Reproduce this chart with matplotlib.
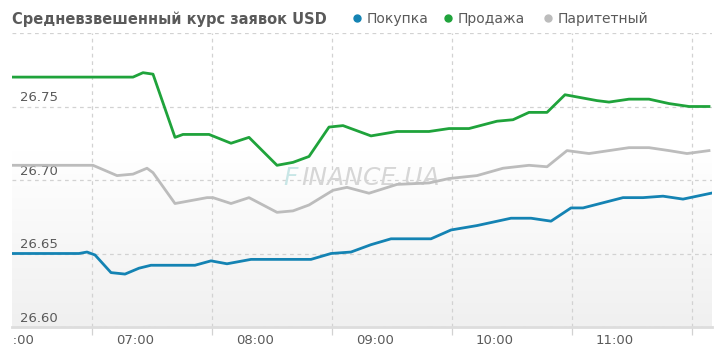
import matplotlib.pyplot as plt
import numpy as np
from matplotlib.lines import Line2D
from matplotlib.colors import LinearSegmentedColormap
from matplotlib.transforms import Bbox, TransformedBbox

# данные: время в минутах от полуночи, значения курса
buy_t = [358, 392, 396, 400, 408, 415, 422, 428, 450, 458, 466, 478, 508, 518, 528,
         538, 548, 568, 578, 591, 608, 618, 628, 638, 644, 664, 674, 684, 694, 708]
buy_v = [26.650, 26.650, 26.651, 26.649, 26.637, 26.636, 26.640, 26.642, 26.642, 26.645,
         26.643, 26.646, 26.646, 26.650, 26.651, 26.656, 26.660, 26.660, 26.666, 26.669,
         26.674, 26.674, 26.672, 26.681, 26.681, 26.688, 26.688, 26.689, 26.687, 26.691]

sell_t = [358, 419, 424, 429, 440, 444, 457, 468, 477, 491, 499, 507, 517, 524, 538, 551,
          567, 577, 587, 601, 609, 617, 626, 635, 651, 657, 667, 677, 687, 697, 707]
sell_v = [26.770, 26.770, 26.773, 26.772, 26.729, 26.731, 26.731, 26.725, 26.729, 26.710,
          26.712, 26.716, 26.736, 26.737, 26.730, 26.733, 26.733, 26.735, 26.735, 26.740,
          26.741, 26.746, 26.746, 26.758, 26.754, 26.753, 26.755, 26.755, 26.752, 26.750,
          26.750]

par_t = [358, 396, 399, 411, 419, 426, 429, 440, 448, 456, 459, 468, 477, 491, 499, 507,
         519, 526, 537, 551, 567, 577, 591, 604, 617, 626, 636, 647, 667, 677, 687, 696, 707]
par_v = [26.710, 26.710, 26.710, 26.703, 26.704, 26.708, 26.705, 26.684, 26.686, 26.688,
         26.688, 26.684, 26.688, 26.678, 26.679, 26.683, 26.693, 26.695, 26.691, 26.697,
         26.698, 26.701, 26.703, 26.708, 26.710, 26.709, 26.720, 26.718, 26.722, 26.722,
         26.720, 26.718, 26.720]

x_ticks = [360, 420, 480, 540, 600, 660]
x_labels = ['06:00', '07:00', '08:00', '09:00', '10:00', '11:00']
x_grid = [398.5, 458.5, 518.5, 578.5, 638.5, 698.5]
y_grid = [26.65, 26.70, 26.75, 26.80]
y_labels = [26.60, 26.65, 26.70, 26.75]

c_buy = '#1483b3'
c_sell = '#1fa33b'
c_par = '#bcbcbc'
txt = '#5a5a5a'

fig = plt.figure(figsize=(7.2, 3.62), dpi=100)
ax = fig.add_axes([12 / 720, 35 / 362, 700 / 720, 294 / 362])
ax.set_xlim(358.5, 708.5)
ax.set_ylim(26.60, 26.80)

# фон с градиентом: белый сверху, светло-серый снизу
grad = np.linspace(0, 1, 256).reshape(-1, 1)
grad = np.clip((grad - 0.4) / 0.6, 0, 1)
cmap = LinearSegmentedColormap.from_list('bg', ['#ffffff', '#f0f0f0'])
ax.imshow(grad, extent=[0, 1, 0, 1], transform=ax.transAxes, aspect='auto',
          cmap=cmap, zorder=0, origin='upper')

for s in ['top', 'right', 'left']:
    ax.spines[s].set_visible(False)
ax.spines['bottom'].set_color('#dddddd')
ax.spines['bottom'].set_linewidth(2)

# сетка
for y in y_grid:
    ax.axhline(y, color='#d2d2d2', lw=0.9, ls=(0, (3, 3)), zorder=1)
ax.set_xticks(x_grid, minor=True)
ax.tick_params(axis='x', which='minor', length=6, width=0.9, color='#d2d2d2', direction='out')
for x in x_grid:
    ax.axvline(x, color='#d2d2d2', lw=0.9, ls=(0, (3, 3)), zorder=1)

ax.set_xticks(x_ticks)
ax.set_xticklabels(x_labels, color=txt, fontsize=9.5)
ax.tick_params(axis='x', which='major', length=0, pad=5)
clip = TransformedBbox(Bbox([[0, -0.3], [1.05, 1]]), ax.transAxes)
for lbl in ax.get_xticklabels():
    lbl.set_clip_box(clip)
    lbl.set_clip_on(True)

ax.set_yticks([])
for y in y_labels:
    ax.text(0.012, y + 0.0015, '%.2f' % y, transform=ax.get_yaxis_transform(),
            color=txt, fontsize=9.5, va='bottom', ha='left', zorder=2)

# водяной знак
ax.text(0.387, 0.507, 'F', transform=ax.transAxes, fontsize=18, style='italic',
        color='#c8e6e6', va='center', ha='left', zorder=2)
ax.text(0.414, 0.507, 'INANCE.UA', transform=ax.transAxes, fontsize=18, style='italic',
        color='#d6d6d6', va='center', ha='left', zorder=2)

# линии
ax.plot(par_t, par_v, color=c_par, lw=2, solid_joinstyle='round', zorder=3)
ax.plot(sell_t, sell_v, color=c_sell, lw=2, solid_joinstyle='round', zorder=3)
ax.plot(buy_t, buy_v, color=c_buy, lw=2, solid_joinstyle='round', zorder=3)

# заголовок и легенда
fig.text(12 / 720, 1 - 19 / 362, 'Средневзвешенный курс заявок USD', fontsize=10.5,
         fontweight='bold', color=txt, va='center', ha='left')
legend = [('Покупка', c_buy, 357), ('Продажа', c_sell, 448), ('Паритетный', c_par, 548)]
for name, col, px in legend:
    fig.add_artist(Line2D([px / 720], [1 - 18 / 362], marker='o', ms=5, color=col,
                          transform=fig.transFigure))
    fig.text((px + 10) / 720, 1 - 19 / 362, name, fontsize=10, color=txt,
             va='center', ha='left')

plt.savefig('out.png', dpi=100)
